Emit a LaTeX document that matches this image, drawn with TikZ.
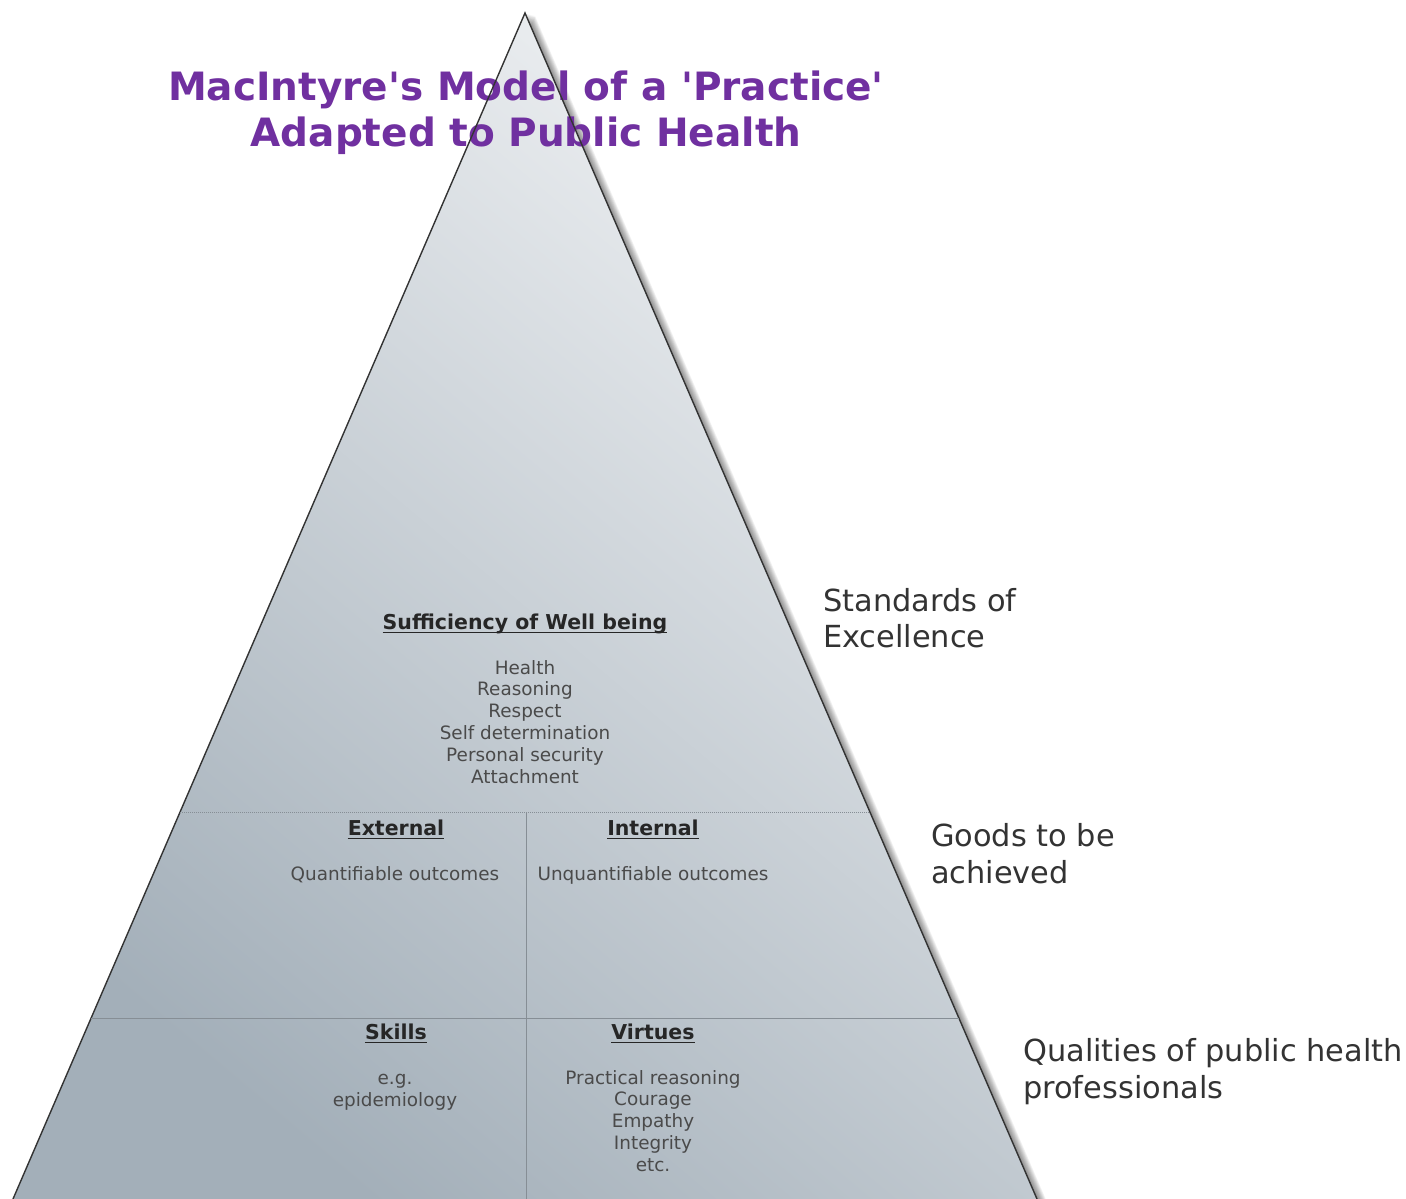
\documentclass[tikz,border=0pt]{standalone}
\usepackage{fontspec}
\setmainfont{DejaVu Sans}
\newfontfamily\plainquotes{DejaVu Sans}[Ligatures=TeXOff]
\usetikzlibrary{calc}

\definecolor{titlepurple}{HTML}{7030A0}
\definecolor{pyrdark}{HTML}{A3AFB9}
\definecolor{pyrmid}{HTML}{DFE3E7}
\definecolor{pyrlight}{HTML}{F0F2F4}
\definecolor{edgegray}{HTML}{333333}
\definecolor{rulegray}{HTML}{868E95}
\definecolor{headgray}{HTML}{262626}
\definecolor{itemgray}{HTML}{4A4A4A}
\definecolor{labelgray}{HTML}{333333}

\tikzset{
  titletext/.style={font=\plainquotes\bfseries\fontsize{39}{46}\selectfont, text=titlepurple, inner sep=0pt, anchor=base},
  headtext/.style={font=\bfseries\fontsize{20.5}{22}\selectfont, text=headgray, inner sep=0pt, anchor=base},
  itemtext/.style={font=\fontsize{18.4}{21.8}\selectfont, text=itemgray, inner sep=0pt, anchor=base},
  sidetext/.style={font=\fontsize{30.4}{36}\selectfont, text=labelgray, inner sep=0pt, anchor=base west},
  headline/.style={draw=headgray, line width=1.3pt},
  pyredge/.style={draw=edgegray, line width=1.4pt},
  divider/.style={draw=rulegray, line width=0.9pt},
}

\begin{document}
\begin{tikzpicture}[x=1pt,y=-1pt]
\useasboundingbox (0,0) rectangle (1406,1199);

% corners of the pyramid
\coordinate (apex) at (525,13);
\coordinate (bl) at (13,1199);
\coordinate (br) at (1037,1199);

% soft shadow to the lower right
\foreach \d in {1,...,10}
  \fill[black, opacity=0.055]
    ([shift={(\d,0.3*\d)}]apex) -- ([shift={(\d,0.3*\d)}]bl) -- ([shift={(\d,0.3*\d)}]br) -- cycle;

% body of the pyramid
\shade[bottom color=pyrdark, middle color=pyrmid, top color=pyrlight, shading angle=-40]
  (apex) -- (bl) -- (br) -- cycle;

% title
\node[titletext] (title1) at (526,100) {MacIntyre's Model of a 'Practice'};
\node[titletext] (title2) at (526,146) {Adapted to Public Health};

% sides of the pyramid
\draw[pyredge] (bl) -- (apex) -- (br);

% tier dividers
\coordinate (l1) at ($(apex)!0.6737!(bl)$);
\coordinate (r1) at ($(apex)!0.6737!(br)$);
\coordinate (l2) at ($(apex)!0.8474!(bl)$);
\coordinate (r2) at ($(apex)!0.8474!(br)$);
\coordinate (m1) at (526,812);
\coordinate (m2) at (526,1199);
\draw[divider, dash pattern=on 1pt off 1pt] (l1) -- (r1);
\draw[divider] (l2) -- (r2);
\draw[divider] (m1) -- (m2);

% top tier
\node[headtext] (suff) at (525,629) {Sufficiency of Well being};
\draw[headline] ([yshift=-3.5]suff.base west) -- ([yshift=-3.5]suff.base east);
\foreach \t [count=\i] in {Health,Reasoning,Respect,Self determination,Personal security,Attachment}
  \node[itemtext] (suff\i) at (525,{674+21.8*(\i-1)}) {\t};

% middle tier
\node[headtext] (ext) at (396,835) {External};
\draw[headline] ([yshift=-3.5]ext.base west) -- ([yshift=-3.5]ext.base east);
\node[itemtext] (extout) at (395,880) {Quantifiable outcomes};
\node[headtext] (int) at (653,835) {Internal};
\draw[headline] ([yshift=-3.5]int.base west) -- ([yshift=-3.5]int.base east);
\node[itemtext] (intout) at (653,880) {Unquantifiable outcomes};

% bottom tier
\node[headtext] (skills) at (396,1039) {Skills};
\draw[headline] ([yshift=-3.5]skills.base west) -- ([yshift=-3.5]skills.base east);
\node[itemtext] (skill1) at (395,1084) {e.g.};
\node[itemtext] (skill2) at (395,1106) {epidemiology};
\node[headtext] (virt) at (653,1039) {Virtues};
\draw[headline] ([yshift=-3.5]virt.base west) -- ([yshift=-3.5]virt.base east);
\foreach \t [count=\i] in {Practical reasoning,Courage,Empathy,Integrity,etc.}
  \node[itemtext] (virt\i) at (653,{1084+21.8*(\i-1)}) {\t};

% tier labels
\node[sidetext] (std1) at (823,611) {Standards of};
\node[sidetext] (std2) at (823,647) {Excellence};
\node[sidetext] (goods1) at (931,846) {Goods to be};
\node[sidetext] (goods2) at (931,883) {achieved};
\node[sidetext] (qual1) at (1023,1061) {Qualities of public health};
\node[sidetext] (qual2) at (1023,1098) {professionals};
\end{tikzpicture}
\end{document}
